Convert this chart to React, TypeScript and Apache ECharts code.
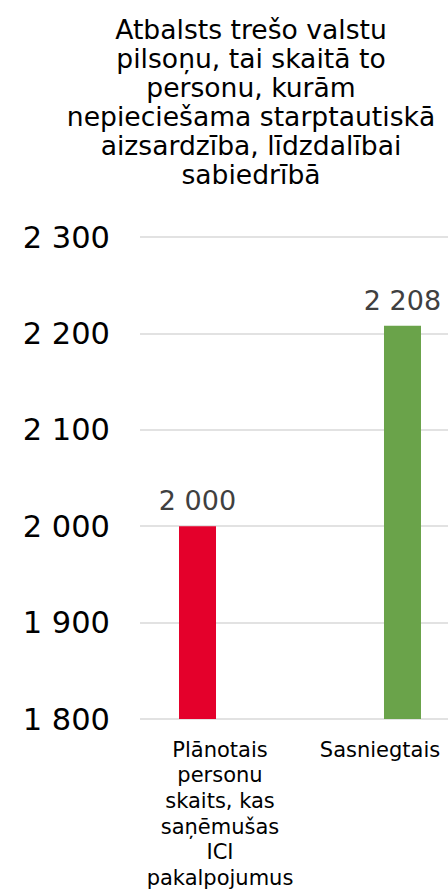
import React, { useEffect, useRef } from "react";
import * as echarts from "echarts";

const titleText =
  "Atbalsts trešo valstu\npilsoņu, tai skaitā to\npersonu, kurām\nnepieciešama starptautiskā\naizsardzība, līdzdalībai\nsabiedrībā";
const categories = [
  "Plānotais\npersonu\nskaits, kas\nsaņēmušas\nICI\npakalpojumus",
  "Sasniegtais",
];
const plannedValues = [2000, null];
const achievedValues = [null, 2208];
const yMin = 1800;
const yMax = 2300;
const yInterval = 100;

const fmt = (v: number) =>
  String(Math.round(v)).replace(/\B(?=(\d{3})+(?!\d))/g, " ");

export default function App() {
  const ref = useRef<HTMLDivElement>(null);
  useEffect(() => {
    document.body.style.margin = "0";
    if (!ref.current) return;
    const chart = echarts.init(ref.current, undefined, { renderer: "svg" });
    const font = "DejaVu Sans, Verdana, sans-serif";
    chart.setOption({
      animation: false,
      backgroundColor: "#ffffff",
      title: {
        text: titleText,
        left: 246,
        top: 10,
        textAlign: "center",
        textStyle: {
          fontFamily: font,
          fontSize: 26.6,
          fontWeight: "normal",
          color: "#000000",
          lineHeight: 29,
        },
      },
      grid: {
        left: 140,
        width: 320,
        top: 237,
        bottom: 171,
        containLabel: false,
        outerBoundsMode: "none",
      },
      xAxis: {
        type: "category",
        data: categories,
        axisLine: { show: false },
        axisTick: { show: false },
        axisLabel: {
          interval: 0,
          margin: 18,
          fontFamily: font,
          fontSize: 21,
          lineHeight: 25.6,
          color: "#000000",
        },
      },
      yAxis: {
        type: "value",
        min: yMin,
        max: yMax,
        interval: yInterval,
        axisLine: { show: false },
        axisTick: { show: false },
        splitLine: { lineStyle: { color: "#D9D9D9", width: 1.5 } },
        axisLabel: {
          margin: 30,
          fontFamily: font,
          fontSize: 30.5,
          color: "#000000",
          formatter: (v: number) => fmt(v),
        },
      },
      series: [
        {
          type: "bar",
          data: plannedValues,
          barWidth: 37,
          barGap: "21.6%",
          itemStyle: { color: "#E4002B" },
          label: {
            show: true,
            position: "top",
            distance: 12,
            fontFamily: font,
            fontSize: 27,
            color: "#404040",
            formatter: (p: any) => fmt(p.value),
          },
        },
        {
          type: "bar",
          data: achievedValues,
          barWidth: 37,
          barGap: "21.6%",
          itemStyle: { color: "#6AA34A" },
          label: {
            show: true,
            position: "top",
            distance: 12,
            fontFamily: font,
            fontSize: 27,
            color: "#404040",
            formatter: (p: any) => fmt(p.value),
          },
        },
      ],
    });
    return () => chart.dispose();
  }, []);
  return <div ref={ref} style={{ width: 448, height: 890 }} />;
}
